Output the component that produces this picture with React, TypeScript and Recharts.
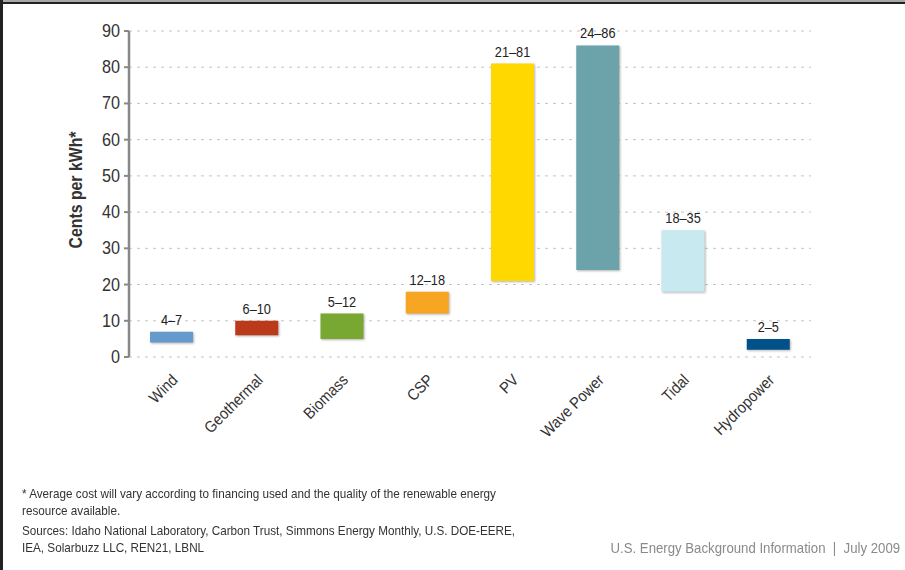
import React from 'react';
import { BarChart, Bar, XAxis, YAxis, CartesianGrid, Cell, LabelList } from 'recharts';

const sources = ['Wind', 'Geothermal', 'Biomass', 'CSP', 'PV', 'Wave Power', 'Tidal', 'Hydropower'];
const lowCost = [4, 6, 5, 12, 21, 24, 18, 2];
const highCost = [7, 10, 12, 18, 81, 86, 35, 5];
const barColors = ['#6699cc', '#bb3a1a', '#78a832', '#f6a623', '#ffd800', '#6ca3ab', '#c9e9f1', '#00508a'];
const yTicks = [0, 10, 20, 30, 40, 50, 60, 70, 80, 90];
const boundaryTicks = [0, 1, 2, 3, 4, 5, 6, 7, 8];

const data = sources.map((name, i) => ({
  name,
  idx: i + 0.5,
  range: [lowCost[i], highCost[i]],
  label: `${lowCost[i]}–${highCost[i]}`,
}));

const FONT = "'Liberation Sans', Arial, sans-serif";

const CategoryTick = (props: any) => {
  const { x, y, payload } = props;
  return (
    <text
      transform={`translate(${x + 7},${y + 16}) rotate(-45) scale(0.9,1)`}
      textAnchor="end"
      fontSize={16}
      fill="#333"
      fontFamily={FONT}
    >
      {payload.value}
    </text>
  );
};

const YTick = (props: any) => {
  const { x, y, payload } = props;
  return (
    <text
      transform={`translate(${x},${y + 6}) scale(0.9,1)`}
      textAnchor="end"
      fontSize={18}
      fill="#333"
      fontFamily={FONT}
    >
      {payload.value}
    </text>
  );
};

const BarLabel = (props: any) => {
  const { x, y, width, value } = props;
  return (
    <text
      transform={`translate(${x + width / 2},${y - 7}) scale(0.85,1)`}
      textAnchor="middle"
      fontSize={15}
      fill="#222"
      fontFamily={FONT}
    >
      {value}
    </text>
  );
};

const YLabel = () => (
  <text
    transform="translate(82,190) rotate(-90) scale(0.88,1)"
    textAnchor="middle"
    fontSize={18}
    fontWeight="bold"
    fill="#333"
    fontFamily={FONT}
  >
    Cents per kWh*
  </text>
);

const noteStyle: React.CSSProperties = {
  position: 'absolute',
  left: 22,
  fontSize: 13,
  lineHeight: '17px',
  color: '#333',
  whiteSpace: 'nowrap',
  transform: 'scaleX(0.9)',
  transformOrigin: 'left top',
};

export default function App() {
  return (
    <div style={{ position: 'relative', width: 905, height: 570, background: '#fff', overflow: 'hidden', fontFamily: FONT }}>
      <style>{'body{margin:0}'}</style>
      <div style={{ position: 'absolute', left: 0, top: 0, width: 905, height: 2, background: '#a8a8a8' }} />
      <div style={{ position: 'absolute', left: 0, top: 2, width: 905, height: 2, background: '#222' }} />
      <div style={{ position: 'absolute', left: 0, top: 0, width: 3, height: 570, background: '#222' }} />

      <BarChart
        width={905}
        height={470}
        data={data}
        margin={{ top: 31, right: 94, left: 0, bottom: 0 }}
        barSize={43}
      >
        <CartesianGrid vertical={false} stroke="#c4c4c4" strokeDasharray="3 5" />
        <XAxis
          xAxisId="edges"
          type="number"
          dataKey="idx"
          domain={[0, 8]}
          ticks={boundaryTicks}
          height={0}
          tick={false}
          tickSize={6}
          tickLine={{ stroke: '#888', strokeWidth: 2.5 }}
          axisLine={{ stroke: '#888', strokeWidth: 2.5 }}
        />
        <XAxis
          dataKey="name"
          height={113}
          interval={0}
          tickLine={false}
          axisLine={false}
          tick={<CategoryTick />}
        />
        <YAxis
          width={129}
          domain={[0, 90]}
          ticks={yTicks}
          interval={0}
          tickSize={5}
          tickMargin={4}
          tick={<YTick />}
          tickLine={{ stroke: '#888', strokeWidth: 2 }}
          axisLine={{ stroke: '#888', strokeWidth: 2.5 }}
          label={<YLabel />}
        />
        <Bar dataKey="range" isAnimationActive={false}>
          {data.map((d, i) => (
            <Cell key={d.name} fill={barColors[i]} style={{ filter: 'drop-shadow(1px 1px 1px rgba(0,0,0,0.3))' }} />
          ))}
          <LabelList dataKey="label" content={<BarLabel />} />
        </Bar>
      </BarChart>

      <div style={{ ...noteStyle, top: 485 }}>
        * Average cost will vary according to financing used and the quality of the renewable energy
        <br />
        resource available.
      </div>
      <div style={{ ...noteStyle, top: 522 }}>
        Sources: Idaho National Laboratory, Carbon Trust, Simmons Energy Monthly, U.S. DOE-EERE,
        <br />
        IEA, Solarbuzz LLC, REN21, LBNL
      </div>
      <div style={{ position: 'absolute', right: 5, top: 539, fontSize: 15, color: '#8a8a8a', whiteSpace: 'nowrap', transform: 'scaleX(0.88)', transformOrigin: 'right top' }}>
        U.S. Energy Background Information &nbsp;|&nbsp; July 2009
      </div>
    </div>
  );
}
